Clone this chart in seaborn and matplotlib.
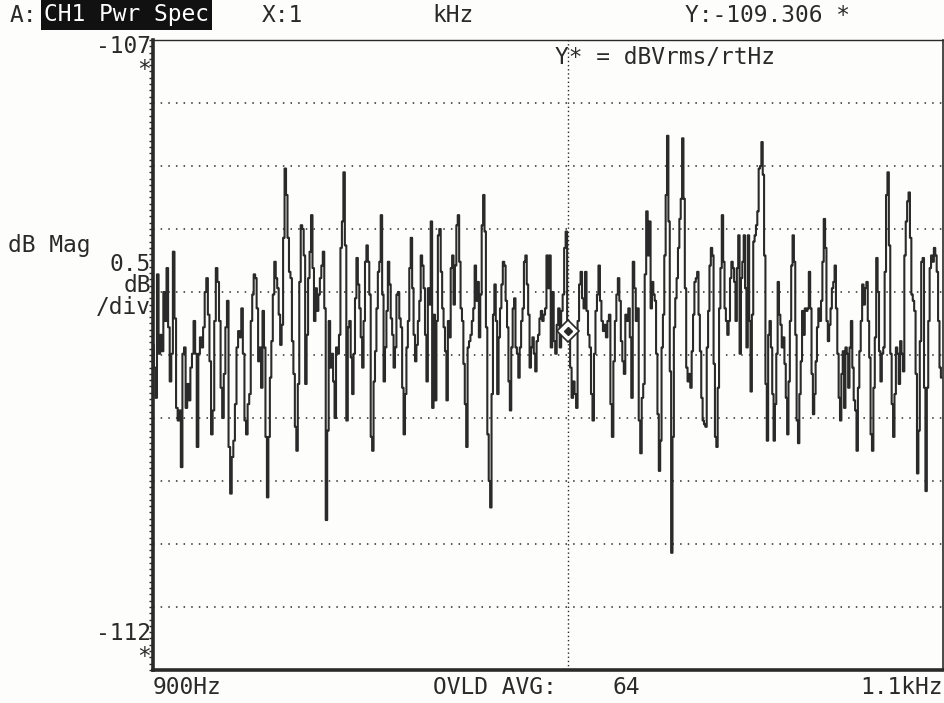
import numpy as np
import pandas as pd
import seaborn as sns
import matplotlib.pyplot as plt
from matplotlib.ticker import MultipleLocator

# trace readings (dBVrms/rtHz), one list per frequency band
mag_900_925 = [-109.42, -109.60, -109.84, -108.86, -109.49, -109.34, -109.47, -109.00, -109.23, -108.81,
               -109.28, -109.71, -109.49, -108.68, -109.21, -109.92, -110.02, -109.94, -110.39, -109.49,
               -109.44, -109.92, -109.73, -109.86, -109.60, -109.49, -109.23, -109.49, -110.23, -109.49,
               -109.36, -109.44, -109.28, -109.00, -108.89, -109.18, -109.55, -110.13, -109.94, -109.23,
               -108.81, -108.92, -109.23, -109.76, -110.00, -109.65, -109.28, -109.07, -110.23, -110.60,
               -110.31, -110.18, -109.89, -109.44, -109.31, -109.36, -109.13, -109.49, -110.02, -110.13,
               -109.89]
mag_925_950 = [-109.81, -109.23, -109.02, -108.86, -108.89, -109.13, -109.55, -109.44, -109.76, -109.15,
               -109.44, -110.15, -110.63, -110.15, -109.68, -109.39, -109.02, -108.76, -108.89, -108.97,
               -109.18, -109.42, -109.26, -108.57, -108.02, -108.23, -108.57, -108.84, -108.89, -109.39,
               -109.65, -110.07, -110.26, -109.73, -108.92, -108.47, -108.50, -108.71, -109.73, -109.34,
               -108.89, -108.68, -108.39, -108.81, -109.23, -108.97, -109.15, -109.02, -108.89, -108.79,
               -108.68, -109.13, -110.81, -110.10, -109.23, -109.60, -109.49, -109.71, -110.00, -109.44,
               -109.49, -109.34, -108.65, -108.44, -108.05, -108.63, -110.02, -109.28]
mag_950_975 = [-109.23, -109.52, -109.81, -109.49, -109.05, -108.73, -108.94, -109.13, -109.36, -109.60,
               -109.23, -108.76, -108.63, -108.76, -109.02, -110.15, -110.26, -109.71, -109.47, -109.13,
               -108.84, -108.76, -108.39, -109.02, -109.71, -109.44, -109.15, -108.76, -108.94, -109.21,
               -109.34, -109.60, -109.44, -109.02, -109.00, -109.21, -109.28, -109.76, -110.13, -109.81,
               -109.44, -109.23, -108.81, -108.57, -108.97, -109.34, -109.55, -109.42, -109.23, -109.07,
               -108.71, -108.79, -108.97, -109.34, -109.71, -108.97, -109.10, -108.44, -109.92, -109.18,
               -109.86, -109.23, -108.55, -108.50, -108.84, -109.13, -109.28, -109.47, -109.86, -109.23]
mag_975_1000 = [-109.36, -108.81, -108.71, -109.10, -108.79, -108.47, -108.39, -108.76, -109.13, -109.23,
                -109.57, -109.89, -110.23, -109.44, -109.39, -109.34, -109.23, -109.13, -108.79, -109.07,
                -108.92, -109.36, -109.02, -108.47, -108.23, -108.52, -109.28, -110.13, -110.50, -110.71,
                -109.81, -109.18, -108.94, -109.23, -109.81, -109.36, -109.13, -108.94, -108.76, -108.79,
                -109.07, -109.28, -109.71, -109.94, -109.44, -109.13, -109.05, -109.44, -109.49, -109.68,
                -109.44, -109.23, -109.13, -108.76, -108.71, -108.94, -109.18, -109.60, -109.44, -109.36,
                -109.49, -109.63, -109.39, -109.34, -109.21, -109.15, -109.23, -109.18, -109.13, -108.71,
                -108.97]
mag_1000_1025 = [-108.71, -109.44, -109.00, -109.39, -109.49, -109.26, -109.13, -109.44, -109.15, -109.02,
                 -108.65, -108.52, -109.23, -109.34, -109.60, -109.84, -109.71, -109.81, -109.92, -109.23,
                 -108.94, -108.84, -109.05, -109.13, -108.84, -109.15, -109.34, -109.44, -109.81, -110.02,
                 -109.49, -109.15, -109.02, -108.79, -109.07, -109.23, -109.31, -109.26, -109.36, -109.23,
                 -109.18, -109.89, -110.15, -109.55, -109.23, -109.02, -108.89, -109.07, -109.39, -109.55,
                 -109.65, -109.18, -109.23, -109.13, -109.36, -109.84, -108.76, -108.97, -109.23, -109.13,
                 -110.02, -110.28, -109.84, -109.73, -108.86, -108.36, -108.71]
mag_1025_1050 = [-108.44, -109.13, -108.92, -109.02, -109.07, -109.49, -109.97, -110.42, -110.18, -109.44,
                 -109.18, -108.71, -108.23, -107.76, -108.44, -109.63, -111.07, -110.15, -109.28, -109.05,
                 -108.89, -108.65, -108.42, -108.26, -107.78, -108.26, -108.97, -109.60, -109.71, -109.65,
                 -109.76, -109.47, -109.18, -108.92, -108.89, -108.84, -109.18, -109.47, -109.84, -110.02,
                 -110.05, -110.07, -109.44, -109.15, -108.79, -108.65, -108.71, -109.57, -110.15, -110.23,
                 -109.76, -109.13, -108.81, -108.39, -108.76, -109.13, -109.23, -109.34, -109.23, -108.89,
                 -108.76, -108.81, -108.92, -109.23, -108.81, -108.55, -109.49, -108.89, -108.76, -108.55,
                 -108.97, -109.44, -108.55]
mag_1050_1075 = [-109.23, -109.79, -109.18, -108.60, -108.55, -108.47, -108.36, -108.02, -108.00, -107.81,
                 -108.07, -108.71, -109.73, -110.18, -109.34, -109.23, -109.44, -109.81, -110.18, -109.89,
                 -109.49, -108.92, -109.18, -109.26, -109.44, -109.36, -109.57, -109.84, -110.13, -109.71,
                 -109.23, -108.79, -108.55, -108.76, -109.34, -110.02, -110.20, -109.81, -109.55, -109.15,
                 -109.34, -109.13, -109.15, -109.13, -108.84, -109.13, -109.65, -109.97, -109.81, -109.55,
                 -109.28, -109.13, -109.23, -109.07, -108.76, -108.42, -108.65, -109.23, -109.39, -109.26,
                 -109.13, -108.97, -108.92, -108.79, -109.13, -109.49, -109.84, -110.02, -109.65, -109.47,
                 -109.92, -109.44, -109.49, -109.76]
mag_1075_1100 = [-109.44, -109.23, -109.60, -109.86, -109.94, -110.26, -109.76, -109.47, -109.23, -108.94,
                 -109.10, -108.97, -108.92, -109.23, -109.52, -110.13, -110.26, -109.76, -109.36, -108.73,
                 -109.00, -109.47, -109.71, -109.49, -109.44, -108.84, -108.23, -108.05, -108.63, -109.49,
                 -109.89, -110.15, -109.81, -109.44, -109.49, -109.73, -109.39, -109.49, -109.63, -108.71,
                 -108.44, -108.28, -108.21, -108.57, -109.02, -109.07, -109.15, -109.65, -110.44, -110.10,
                 -109.39, -108.76, -108.73, -109.76, -110.58, -109.76, -109.23, -108.81, -108.71, -108.76,
                 -108.65, -108.71, -108.84, -109.23, -109.60, -109.68]

band_edges = [900.0, 924.56, 949.87, 975.19, 1000.5, 1025.8, 1051.1, 1076.5, 1100.0]
bands = [mag_900_925, mag_925_950, mag_950_975, mag_975_1000,
         mag_1000_1025, mag_1025_1050, mag_1050_1075, mag_1075_1100]

cursor_hz = 1005.0
cursor_db = -109.306
y_top, y_bottom = -107.0, -112.0

freq = np.concatenate([np.linspace(band_edges[i], band_edges[i + 1], len(b), endpoint=False)
                       for i, b in enumerate(bands)])
df = pd.DataFrame({"freq": freq, "mag": np.concatenate(bands)})

sns.set_style("white")
plt.rcParams["font.family"] = ["DejaVu Sans Mono", "DejaVu Sans"]
ink = "#2a2a2a"
paper = "#fdfdfb"

fig = plt.figure(figsize=(9.45, 7.03), dpi=100)
fig.patch.set_facecolor(paper)
ax = fig.add_axes([153 / 945, 1 - 670 / 703, 790 / 945, 630 / 703])
ax.set_facecolor(paper)

sns.lineplot(data=df, x="freq", y="mag", ax=ax, color=ink, lw=1.5,
             drawstyle="steps-mid", legend=False)

ax.set_xlim(900, 1100)
ax.set_ylim(y_bottom, y_top)
for lev in np.arange(-107.5, -111.9, -0.5):
    ax.axhline(lev, color=ink, ls=(0, (1, 4)), lw=1.1, zorder=0)
ax.axvline(cursor_hz, color=ink, ls=(0, (1, 2)), lw=1.0, zorder=0)
ax.plot(cursor_hz, cursor_db, marker="D", ms=11, mfc=paper, mec=ink, mew=1.2, zorder=5)
ax.plot(cursor_hz, cursor_db, marker="D", ms=4, mfc=ink, mec=ink, zorder=6)

ax.set_xticks([])
ax.set_yticks([])
ax.yaxis.set_minor_locator(MultipleLocator(0.05))
ax.tick_params(axis="y", which="minor", left=True, direction="out", length=3, width=1, color=ink)
ax.set_xlabel("")
ax.set_ylabel("")
for side, w in [("left", 2.6), ("bottom", 2.6), ("top", 1.0), ("right", 1.2)]:
    ax.spines[side].set_visible(True)
    ax.spines[side].set_color(ink)
    ax.spines[side].set_linewidth(w)

fs = 16.5


def px(x, y, s, ha="left", color=ink, **kw):
    fig.text(x / 945, 1 - y / 703, s, ha=ha, va="center", fontsize=fs, color=color, **kw)


px(10, 15, "A:")
px(44, 15, "CH1 Pwr Spec", color="white",
   bbox=dict(boxstyle="square,pad=0.14", fc="#111111", ec="none"))
px(262, 15, "X:1")
px(432, 15, "kHz")
px(685, 15, "Y:-109.306 *")
px(151, 58, "-107\n*", ha="right", multialignment="right", linespacing=0.95)
px(555, 58, "Y* = dBVrms/rtHz")
px(8, 245, "dB Mag")
px(151, 286, "0.5\ndB\n/div", ha="right", multialignment="right", linespacing=0.9)
px(151, 645, "-112\n*", ha="right", multialignment="right", linespacing=0.95)
px(153, 688, "900Hz")
px(433, 688, "OVLD AVG:")
px(612, 688, "64")
px(943, 688, "1.1kHz", ha="right")

fig.savefig("out.png", dpi=100, facecolor=fig.get_facecolor())
